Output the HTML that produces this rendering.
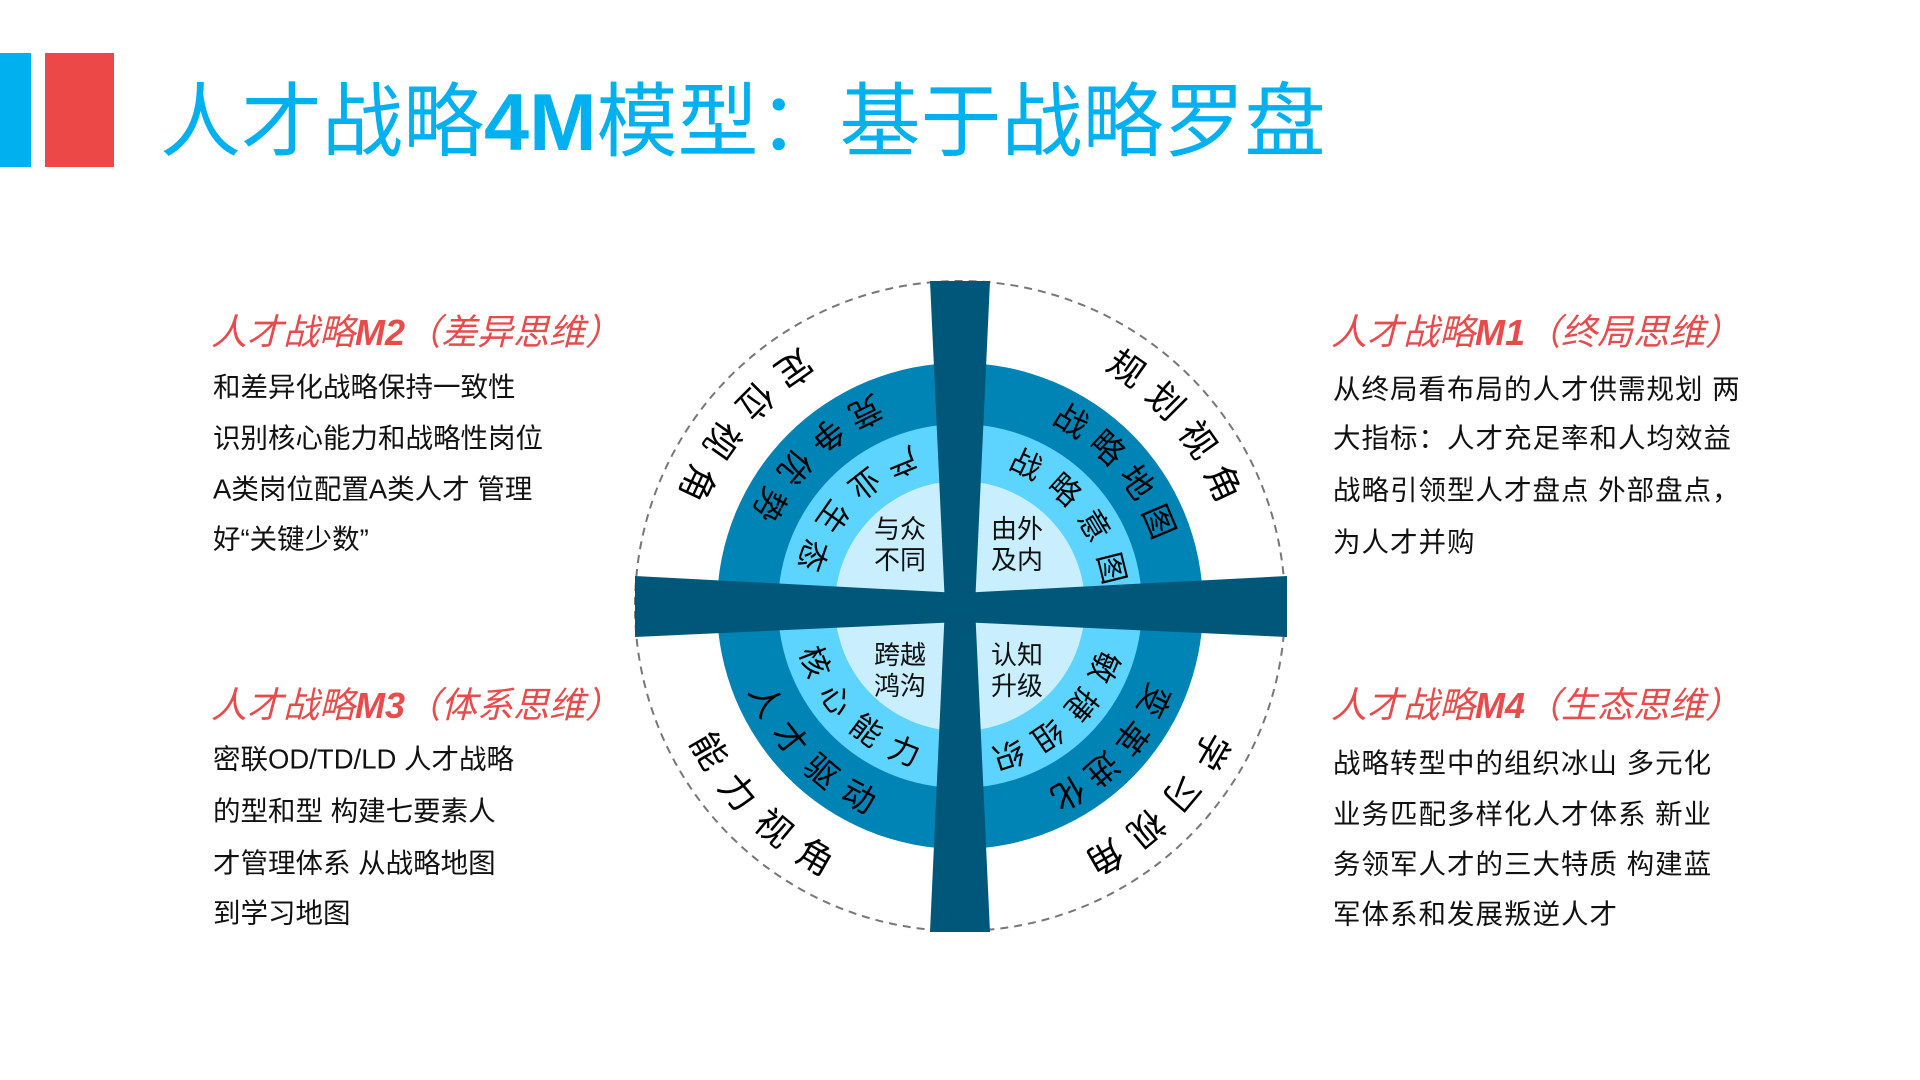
<!DOCTYPE html>
<html><head><meta charset="utf-8"><style>
html,body{margin:0;padding:0;background:#fff;}
svg{display:block;font-family:"Liberation Sans","Noto Sans CJK SC",sans-serif;}
.o{font-size:36px;fill:#000;}
.d{font-size:33px;fill:#000;}
.m{font-size:31px;fill:#000;}
.i{font-size:26px;fill:#111;}
.h{font-size:36px;fill:#e84b4b;font-style:italic;}
.b{font-size:27.5px;fill:#111;}
</style></head><body>
<svg width="1920" height="1080" viewBox="0 0 1920 1080">
<rect x="0" y="53" width="31" height="114" fill="#00b0ef"/>
<rect x="45" y="53" width="69" height="114" fill="#ec4848"/>
<text x="160" y="150" font-size="81" fill="#00b0ef">人才战略<tspan font-weight="bold">4M</tspan>模型：基于战略罗盘</text>

<g transform="translate(-5,-3)">
<circle cx="965" cy="609" r="325" fill="none" stroke="#777" stroke-width="2" stroke-dasharray="8 6"/>
<circle cx="965" cy="609" r="243" fill="#0083b5"/>
<circle cx="965" cy="609" r="182" fill="#5cd4fd"/>
<circle cx="965" cy="609" r="125" fill="#c9efff"/>
<polygon points="935,284 995,284 980,609 995,935 935,935 950,609" fill="#005779"/>
<polygon points="640,579 965,596 1292,579 1292,640 965,625 640,640" fill="#005779"/>

<g text-anchor="middle" dominant-baseline="central">
<text class="o" x="965" y="899" transform="rotate(145 965 609)">定</text>
<text class="o" x="965" y="899" transform="rotate(135 965 609)">位</text>
<text class="o" x="965" y="899" transform="rotate(125 965 609)">视</text>
<text class="o" x="965" y="899" transform="rotate(115 965 609)">角</text>
<text class="o" x="965" y="319" transform="rotate(35 965 609)">规</text>
<text class="o" x="965" y="319" transform="rotate(45 965 609)">划</text>
<text class="o" x="965" y="319" transform="rotate(55 965 609)">视</text>
<text class="o" x="965" y="319" transform="rotate(65 965 609)">角</text>
<text class="o" x="965" y="899" transform="rotate(60 965 609)">能</text>
<text class="o" x="965" y="899" transform="rotate(50 965 609)">力</text>
<text class="o" x="965" y="899" transform="rotate(40 965 609)">视</text>
<text class="o" x="965" y="899" transform="rotate(30 965 609)">角</text>
<text class="o" x="965" y="319" transform="rotate(120 965 609)">学</text>
<text class="o" x="965" y="319" transform="rotate(130 965 609)">习</text>
<text class="o" x="965" y="319" transform="rotate(140 965 609)">视</text>
<text class="o" x="965" y="319" transform="rotate(150 965 609)">角</text>

<text class="d" x="965" y="825" transform="rotate(154 965 609)">竞</text>
<text class="d" x="965" y="825" transform="rotate(142 965 609)">争</text>
<text class="d" x="965" y="825" transform="rotate(130 965 609)">优</text>
<text class="d" x="965" y="825" transform="rotate(118 965 609)">势</text>
<text class="d" x="965" y="393" transform="rotate(31 965 609)">战</text>
<text class="d" x="965" y="393" transform="rotate(43 965 609)">略</text>
<text class="d" x="965" y="393" transform="rotate(55 965 609)">地</text>
<text class="d" x="965" y="393" transform="rotate(67 965 609)">图</text>
<text class="d" x="965" y="825" transform="rotate(64 965 609)">人</text>
<text class="d" x="965" y="825" transform="rotate(52 965 609)">才</text>
<text class="d" x="965" y="825" transform="rotate(40 965 609)">驱</text>
<text class="d" x="965" y="825" transform="rotate(28 965 609)">动</text>
<text class="d" x="965" y="393" transform="rotate(116 965 609)">变</text>
<text class="d" x="965" y="393" transform="rotate(127.5 965 609)">革</text>
<text class="d" x="965" y="393" transform="rotate(139 965 609)">进</text>
<text class="d" x="965" y="393" transform="rotate(150 965 609)">化</text>

<text class="m" x="965" y="765" transform="rotate(158 965 609)">产</text>
<text class="m" x="965" y="765" transform="rotate(142 965 609)">业</text>
<text class="m" x="965" y="765" transform="rotate(125 965 609)">生</text>
<text class="m" x="965" y="765" transform="rotate(109 965 609)">态</text>
<text class="m" x="965" y="453" transform="rotate(25 965 609)">战</text>
<text class="m" x="965" y="453" transform="rotate(42 965 609)">略</text>
<text class="m" x="965" y="453" transform="rotate(59 965 609)">意</text>
<text class="m" x="965" y="453" transform="rotate(76 965 609)">图</text>
<text class="m" x="965" y="765" transform="rotate(69 965 609)">核</text>
<text class="m" x="965" y="765" transform="rotate(53 965 609)">心</text>
<text class="m" x="965" y="765" transform="rotate(37 965 609)">能</text>
<text class="m" x="965" y="765" transform="rotate(21 965 609)">力</text>
<text class="m" x="965" y="453" transform="rotate(113 965 609)">敏</text>
<text class="m" x="965" y="453" transform="rotate(129 965 609)">捷</text>
<text class="m" x="965" y="453" transform="rotate(146 965 609)">组</text>
<text class="m" x="965" y="453" transform="rotate(162 965 609)">织</text>

<text class="i" x="905" y="532">与众</text>
<text class="i" x="905" y="563">不同</text>
<text class="i" x="1022" y="532">由外</text>
<text class="i" x="1022" y="563">及内</text>
<text class="i" x="905" y="658">跨越</text>
<text class="i" x="905" y="689">鸿沟</text>
<text class="i" x="1022" y="658">认知</text>
<text class="i" x="1022" y="689">升级</text>
</g>
</g>

<g dominant-baseline="central">
<text class="h" x="211" y="332">人才战略<tspan font-weight="bold">M2</tspan>（差异思维）</text>
<text class="b" x="213" y="387">和差异化战略保持一致性</text>
<text class="b" x="213" y="438">识别核心能力和战略性岗位</text>
<text class="b" x="213" y="489">A类岗位配置A类人才 管理</text>
<text class="b" x="213" y="539">好“关键少数”</text>

<text class="h" x="211" y="705">人才战略<tspan font-weight="bold">M3</tspan>（体系思维）</text>
<text class="b" x="213" y="759">密联OD/TD/LD 人才战略</text>
<text class="b" x="213" y="811">的型和型 构建七要素人</text>
<text class="b" x="213" y="863">才管理体系 从战略地图</text>
<text class="b" x="213" y="913">到学习地图</text>

<text class="h" x="1331" y="332">人才战略<tspan font-weight="bold">M1</tspan>（终局思维）</text>
<text class="b" x="1333" y="389" letter-spacing="1">从终局看布局的人才供需规划 两</text>
<text class="b" x="1333" y="438" letter-spacing="1">大指标：人才充足率和人均效益</text>
<text class="b" x="1333" y="490" letter-spacing="1">战略引领型人才盘点 外部盘点，</text>
<text class="b" x="1333" y="542" letter-spacing="1">为人才并购</text>

<text class="h" x="1331" y="705">人才战略<tspan font-weight="bold">M4</tspan>（生态思维）</text>
<text class="b" x="1333" y="763" letter-spacing="1">战略转型中的组织冰山 多元化</text>
<text class="b" x="1333" y="814" letter-spacing="1">业务匹配多样化人才体系 新业</text>
<text class="b" x="1333" y="864" letter-spacing="1">务领军人才的三大特质 构建蓝</text>
<text class="b" x="1333" y="914" letter-spacing="1">军体系和发展叛逆人才</text>
</g>
</svg>
</body></html>
